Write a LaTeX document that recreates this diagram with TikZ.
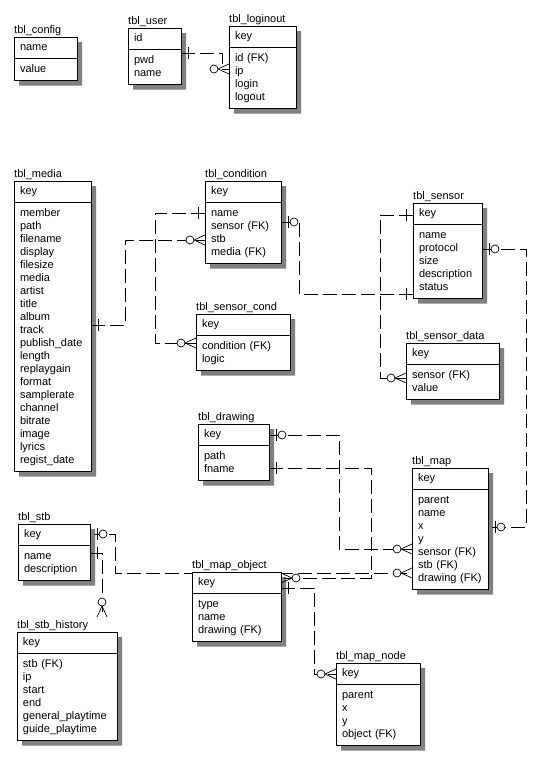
\documentclass[tikz,border=0pt]{standalone}
\usepackage{fontspec}
\setmainfont{Liberation Sans}
\usetikzlibrary{shapes.multipart,shadows,backgrounds}

\tikzset{
  tbl/.style={draw, fill=white, line width=0.8pt, rectangle split, rectangle split parts=2,
    anchor=north west, align=left, inner xsep=6pt, inner ysep=4pt, outer sep=0pt,
    font=\fontsize{11}{13}\selectfont,
    drop shadow={shadow xshift=5pt, shadow yshift=-5pt, fill=black!50, opacity=1}},
  tname/.style={anchor=base west, inner sep=0pt, yshift=4pt, font=\fontsize{11}{13}\selectfont},
  rel/.style={line width=0.7pt, dash pattern=on 14pt off 5pt},
  onebar/.pic={\draw[line width=0.7pt] (7,-6) -- (7,6);},
  zeroone/.pic={\draw[line width=0.7pt] (7,-6) -- (7,6);
                \draw[line width=0.7pt, fill=white] (13,0) circle (4pt);},
  zeromany/.pic={\draw[line width=0.7pt] (0,-5) -- (11,0) -- (0,5);
                 \draw[line width=0.7pt, fill=white] (15,0) circle (4pt);},
}

\begin{document}
\begin{tikzpicture}[x=1pt, y=-1pt]
  \useasboundingbox (0,0) rectangle (543,758);

  \node[tbl, text width=51pt, label={[tname]north west:tbl\_config}]      (config)     at (14,37)  {\strut name\nodepart{two}\strut value};
  \node[tbl, text width=41pt, label={[tname]north west:tbl\_user}]        (user)       at (128,28) {\strut id\nodepart{two}\strut pwd\\name\strut};
  \node[tbl, text width=55pt, label={[tname]north west:tbl\_loginout}]    (loginout)   at (229,26) {\strut key\nodepart{two}\strut id (FK)\\ip\\login\\logout\strut};

  \node[tbl, text width=65pt, label={[tname]north west:tbl\_media}]       (media)      at (14,181) {\strut key\nodepart{two}\strut member\\path\\filename\\display\\filesize\\media\\artist\\title\\album\\track\\publish\_date\\length\\replaygain\\format\\samplerate\\channel\\bitrate\\image\\lyrics\\regist\_date\strut};
  \node[tbl, text width=64pt, label={[tname]north west:tbl\_condition}]   (condition)  at (205,181) {\strut key\nodepart{two}\strut name\\sensor (FK)\\stb\\media (FK)\strut};
  \node[tbl, text width=82pt, label={[tname]north west:tbl\_sensor\_cond}] (sensorcond) at (196,314) {\strut key\nodepart{two}\strut condition (FK)\\logic\strut};
  \node[tbl, text width=57pt, label={[tname]north west:tbl\_sensor}]      (sensor)     at (413,203) {\strut key\nodepart{two}\strut name\\protocol\\size\\description\\status\strut};
  \node[tbl, text width=81pt, label={[tname]north west:tbl\_sensor\_data}] (sensordata) at (406,343) {\strut key\nodepart{two}\strut sensor (FK)\\value\strut};

  \node[tbl, text width=59pt, label={[tname]north west:tbl\_drawing}]     (drawing)    at (198,424) {\strut key\nodepart{two}\strut path\\fname\strut};
  \node[tbl, text width=64pt, label={[tname]north west:tbl\_map}]         (map)        at (412,468) {\strut key\nodepart{two}\strut parent\\name\\x\\y\\sensor (FK)\\stb (FK)\\drawing (FK)\strut};
  \node[tbl, text width=60pt, label={[tname]north west:tbl\_stb}]         (stb)        at (18,524)  {\strut key\nodepart{two}\strut name\\description\strut};
  \node[tbl, text width=88pt, label={[tname]north west:tbl\_stb\_history}] (history)    at (17,632)  {\strut key\nodepart{two}\strut stb (FK)\\ip\\start\\end\\general\_playtime\\guide\_playtime\strut};
  \node[tbl, text width=77pt, label={[tname]north west:tbl\_map\_object}] (mapobject)  at (192,572) {\strut key\nodepart{two}\strut type\\name\\drawing (FK)\strut};
  \node[tbl, text width=72pt, label={[tname]north west:tbl\_map\_node}]   (mapnode)    at (336,663) {\strut key\nodepart{two}\strut parent\\x\\y\\object (FK)\strut};

  \draw[rel] ([yshift=-25pt]user.north east) -- (222,53) -- (222,69) -- ([yshift=-43pt]loginout.north west);
  \pic at ([yshift=-25pt]user.north east) {onebar};
  \pic[rotate=180] at ([yshift=-43pt]loginout.north west) {zeromany};

  \draw[rel] ([yshift=-144pt]media.north east) -- (125,325) -- (125,240) -- ([yshift=-59pt]condition.north west);
  \pic at ([yshift=-144pt]media.north east) {onebar};
  \pic[rotate=180] at ([yshift=-59pt]condition.north west) {zeromany};

  \draw[rel] ([yshift=-32pt]condition.north west) -- (155,213) -- (155,343) -- ([yshift=-29pt]sensorcond.north west);
  \pic[rotate=180] at ([yshift=-32pt]condition.north west) {onebar};
  \pic[rotate=180] at ([yshift=-29pt]sensorcond.north west) {zeromany};

  \draw[rel] ([yshift=-41pt]condition.north east) -- (299,222) -- (299,294) -- ([yshift=-91pt]sensor.north west);
  \pic at ([yshift=-41pt]condition.north east) {zeroone};
  \pic[rotate=180] at ([yshift=-91pt]sensor.north west) {onebar};

  \draw[rel] ([yshift=-12pt]sensor.north west) -- (380,215) -- (380,378) -- ([yshift=-35pt]sensordata.north west);
  \pic[rotate=180] at ([yshift=-12pt]sensor.north west) {onebar};
  \pic[rotate=180] at ([yshift=-35pt]sensordata.north west) {zeromany};

  \draw[rel] ([yshift=-46pt]sensor.north east) -- (526,249) -- (526,527) -- ([yshift=-59pt]map.north east);
  \pic at ([yshift=-46pt]sensor.north east) {zeroone};
  \pic at ([yshift=-59pt]map.north east) {zeroone};

  \draw[rel] ([yshift=-11pt]drawing.north east) -- (339,435) -- (339,549) -- ([yshift=-81pt]map.north west);
  \pic at ([yshift=-11pt]drawing.north east) {zeroone};
  \pic[rotate=180] at ([yshift=-81pt]map.north west) {zeromany};

  \draw[rel] ([yshift=-44pt]drawing.north east) -- (371,468) -- (371,578) -- ([yshift=-6pt]mapobject.north east);
  \pic at ([yshift=-44pt]drawing.north east) {onebar};
  \pic at ([yshift=-6pt]mapobject.north east) {zeromany};

  \begin{scope}[on background layer]
    \draw[rel] ([yshift=-10pt]stb.north east) -- (115,534) -- (115,573) -- ([yshift=-105pt]map.north west);
  \end{scope}
  \pic at ([yshift=-10pt]stb.north east) {zeroone};
  \pic[rotate=180] at ([yshift=-105pt]map.north west) {zeromany};

  \draw[rel] ([yshift=-29pt]stb.north east) -- (102,553) -- ([xshift=85pt,yshift=15pt]history.north west);
  \pic at ([yshift=-29pt]stb.north east) {onebar};
  \pic[rotate=90] at ([xshift=85pt,yshift=15pt]history.north west) {zeromany};

  \draw[rel] ([yshift=-16pt]mapobject.north east) -- (314,588) -- (314,674) -- ([yshift=-11pt]mapnode.north west);
  \pic at ([yshift=-16pt]mapobject.north east) {onebar};
  \pic[rotate=180] at ([yshift=-11pt]mapnode.north west) {zeromany};
\end{tikzpicture}
\end{document}
